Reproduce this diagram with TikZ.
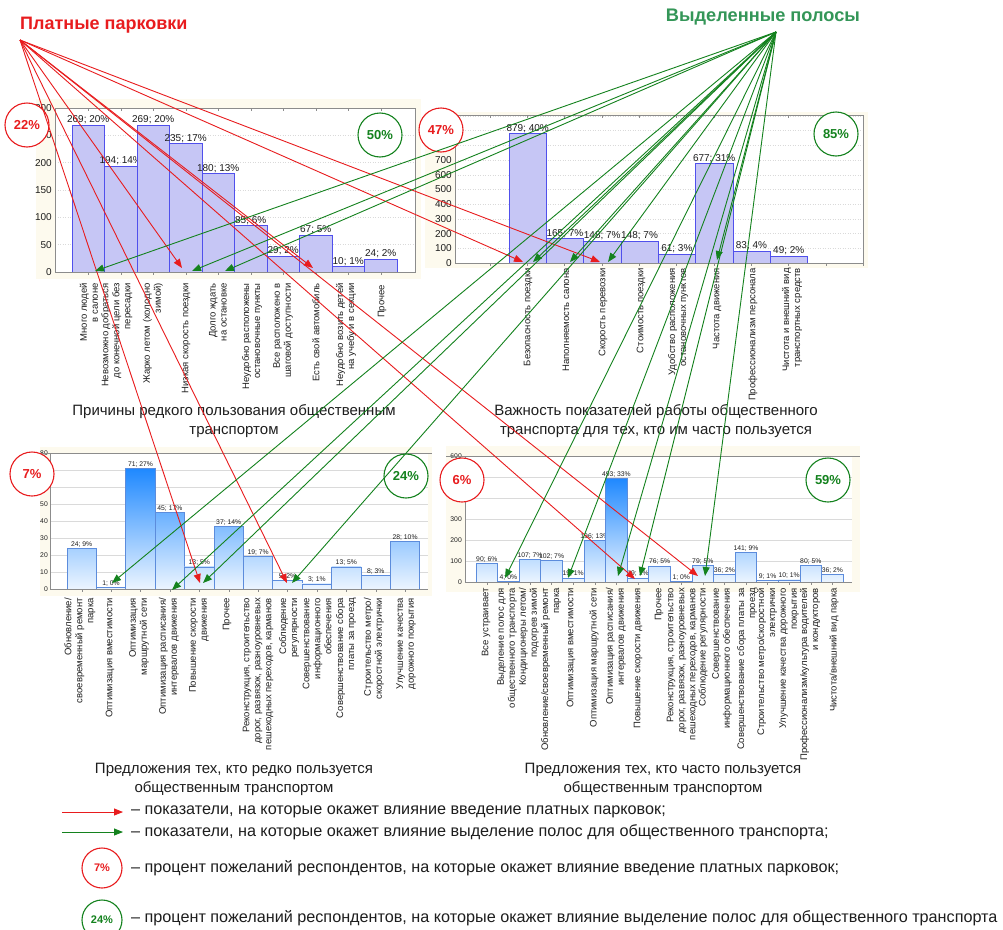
\documentclass[tikz,border=0pt]{standalone}
\usepackage{fontspec}
\setmainfont{Liberation Sans}
\usetikzlibrary{arrows.meta}
\definecolor{pred}{RGB}{232,28,30}
\definecolor{pgreen}{RGB}{20,130,30}
\definecolor{tgreen}{RGB}{52,150,88}
\definecolor{cream}{RGB}{253,250,238}
\definecolor{hatchfill}{RGB}{198,198,245}
\definecolor{hatchdraw}{RGB}{80,80,236}
\definecolor{barline}{RGB}{92,140,220}
\definecolor{deepblue}{RGB}{30,136,255}
\definecolor{paleblue}{RGB}{236,245,255}
\definecolor{gridc}{RGB}{218,218,218}
\definecolor{axisc}{RGB}{140,140,140}
\definecolor{txtc}{RGB}{30,30,30}
\tikzset{
  catlab/.style={rotate=90, anchor=east, align=right, inner sep=0pt, text=txtc, font=\fontsize{9.5}{11}\selectfont},
  toplab/.style={anchor=south, inner sep=1pt, text=txtc, font=\fontsize{10}{10}\selectfont},
  botlab/.style={anchor=south, inner sep=1pt, text=txtc, font=\fontsize{6.8}{7}\selectfont},
  ytop/.style={anchor=east, inner sep=1pt, text=txtc, font=\fontsize{10}{10}\selectfont},
  ybot/.style={anchor=east, inner sep=1pt, text=txtc, font=\fontsize{6.8}{7}\selectfont},
  caption/.style={align=center, text=txtc, font=\fontsize{15}{19}\selectfont},
  hbar/.style={fill=hatchfill, draw=hatchdraw, line width=0.6pt},
  bbar/.style={draw=barline, line width=0.8pt},
  frame/.style={draw=axisc, line width=0.7pt},
  gridl/.style={draw=gridc, line width=0.5pt, dash pattern=on 1pt off 1.5pt},
  gridb/.style={draw=gridc, line width=0.5pt},
  redcirc/.style={circle, draw=pred, line width=1.1pt, fill=white, text=pred, minimum size=44pt, inner sep=0pt, font=\bfseries\fontsize{13}{13}\selectfont},
  greencirc/.style={circle, draw=pgreen, line width=1.1pt, fill=white, text=pgreen, minimum size=44pt, inner sep=0pt, font=\bfseries\fontsize{13}{13}\selectfont},
  redarrow/.style={draw=pred, line width=0.9pt, -{Triangle[length=9pt,width=7pt]}},
  greenarrow/.style={draw=pgreen, line width=0.9pt, -{Triangle[length=9pt,width=7pt]}},
  legtext/.style={anchor=west, inner sep=0pt, text=txtc, font=\fontsize{16.2}{17}\selectfont},
}
\begin{document}
\begin{tikzpicture}[x=1pt,y=-1pt]
\useasboundingbox (0,0) rectangle (1003,929);
\fill[white] (0,0) rectangle (1003,929);

% ================= TOP-LEFT CHART =================
\fill[cream] (36,99) rectangle (421,279);
\fill[white] (55,108) rectangle (415,272);
\foreach \v in {50,100,...,300} {\draw[gridl] (55,{272-0.5467*\v}) -- (415,{272-0.5467*\v});}
\foreach \v [count=\i] in {0,50,...,300} {\node[ytop] (tly\i) at (53,{272-0.5467*\v}) {\v};}
\foreach \v/\t [count=\i from 0] in {269/{269; 20\%},194/{194; 14\%},269/{269; 20\%},235/{235; 17\%},180/{180; 13\%},85/{85; 6\%},29/{29; 2\%},67/{67; 5\%},10/{10; 1\%},24/{24; 2\%}} {
  \pgfmathsetmacro\xa{72+32.5*\i}
  \pgfmathsetmacro\xb{\xa+32.5}
  \pgfmathsetmacro\yt{272-0.5467*\v}
  \draw[hbar] (\xa,272) rectangle (\xb,\yt);
  \node[toplab] (tlv\i) at ({(\xa+\xb)/2},\yt) {\t};
  \draw[axisc] ({\xa+16.25},108) -- ({\xa+16.25},111);
  \draw[axisc] ({\xa+16.25},272) -- ({\xa+16.25},275);
}
\draw[frame] (55,108) rectangle (415,272);
\node[catlab] (tlc1) at (89,283) {Много людей\\в салоне};
\node[catlab] (tlc2) at (117,283) {Невозможно добраться\\до конечной цели без\\пересадки};
\node[catlab] (tlc3) at (153,283) {Жарко летом (холодно\\зимой)};
\node[catlab] (tlc4) at (186,283) {Низкая скорость поездки};
\node[catlab] (tlc5) at (218,283) {Долго ждать\\на остановке};
\node[catlab] (tlc6) at (252,283) {Неудобно расположены\\остановочные пункты};
\node[catlab] (tlc7) at (283,283) {Все расположено в\\шаговой доступности};
\node[catlab] (tlc8) at (316,283) {Есть свой автомобиль};
\node[catlab] (tlc9) at (346,283) {Неудобно возить детей\\на учебу и в секции};
\node[catlab] (tlc10) at (382,285) {Прочее};
\node[caption] (tlcap) at (234,421) {Причины редкого пользования общественным\\транспортом};

% ================= TOP-RIGHT CHART =================
\fill[cream] (425,112) rectangle (868,268);
\fill[white] (455,115) rectangle (863,263);
\foreach \v in {100,200,...,1000} {\draw[gridl] (455,{263-0.147*\v}) -- (863,{263-0.147*\v});}
\foreach \v [count=\i] in {0,100,...,1000} {\node[ytop] (try\i) at (453,{263-0.147*\v}) {\v};}
\foreach \v/\t [count=\i from 0] in {879/{879; 40\%},165/{165; 7\%},148/{148; 7\%},148/{148; 7\%},61/{61; 3\%},677/{677; 31\%},83/{83; 4\%},49/{49; 2\%}} {
  \pgfmathsetmacro\xa{509+37.3*\i}
  \pgfmathsetmacro\xb{\xa+37.3}
  \pgfmathsetmacro\yt{263-0.147*\v}
  \draw[hbar] (\xa,263) rectangle (\xb,\yt);
  \node[toplab] (trv\i) at ({(\xa+\xb)/2},\yt) {\t};
}
\foreach \i in {0,...,10} {
  \draw[axisc] ({490+37.3*\i},115) -- ({490+37.3*\i},118);
  \draw[axisc] ({490+37.3*\i},263) -- ({490+37.3*\i},266);
}
\draw[frame] (455,115) rectangle (863,263);
\node[catlab] (trc1) at (528,268) {Безопасность поездки};
\node[catlab] (trc2) at (566,268) {Наполняемость салона};
\node[catlab] (trc3) at (603,268) {Скорость перевозки};
\node[catlab] (trc4) at (641,268) {Стоимость поездки};
\node[catlab] (trc5) at (678,268) {Удобство расположения\\остановочных пунктов};
\node[catlab] (trc6) at (717,268) {Частота движения};
\node[catlab] (trc7) at (753,268) {Профессионализм персонала};
\node[catlab] (trc8) at (792,268) {Чистота и внешний вид\\транспортных средств};
\node[caption] (trcap) at (656,421) {Важность показателей работы общественного\\транспорта для тех, кто им часто пользуется};

% ================= BOTTOM-LEFT CHART =================
\fill[cream] (40,447) rectangle (432,596);
\fill[white] (50,453) rectangle (428,589);
\foreach \v in {10,20,...,70} {\draw[gridb] (50,{589-1.7*\v}) -- (428,{589-1.7*\v});}
\foreach \v [count=\i] in {0,10,...,80} {\node[ybot] (bly\i) at (49,{589-1.7*\v}) {\v};}
\foreach \v/\t [count=\i from 0] in {24/{24; 9\%},1/{1; 0\%},71/{71; 27\%},45/{45; 17\%},13/{13; 5\%},37/{37; 14\%},19/{19; 7\%},5/{5; 2\%},3/{3; 1\%},13/{13; 5\%},8/{8; 3\%},28/{28; 10\%}} {
  \pgfmathsetmacro\xa{67+29.4*\i}
  \pgfmathsetmacro\xb{\xa+29.4}
  \pgfmathsetmacro\yt{589-1.7*\v}
  \begin{scope}
    \clip (\xa,589) rectangle (\xb,\yt);
    \shade[top color=deepblue, bottom color=paleblue] (\xa,468) rectangle (\xb,589);
  \end{scope}
  \draw[bbar] (\xa,589) rectangle (\xb,\yt);
  \node[botlab] (blv\i) at ({(\xa+\xb)/2},\yt) {\t};
  \draw[axisc] ({\xa+14.7},589) -- ({\xa+14.7},592);
}
\draw[axisc, line width=0.8pt] (40,453) -- (432,453);
\draw[axisc, line width=0.6pt] (50,453) -- (50,589) -- (428,589);
\node[catlab] (blc1) at (80,598) {Обновление/\\своевременный ремонт\\парка};
\node[catlab] (blc2) at (110,598) {Оптимизация вместимости};
\node[catlab] (blc3) at (139,598) {Оптимизация\\маршрутной сети};
\node[catlab] (blc4) at (169,598) {Оптимизация расписания/\\интервалов движения};
\node[catlab] (blc5) at (199,598) {Повышение скорости\\движения};
\node[catlab] (blc6) at (227,598) {Прочее};
\node[catlab] (blc7) at (258,598) {Реконструкция, строительство\\дорог, развязок, разноуровневых\\пешеходных переходов, карманов};
\node[catlab] (blc8) at (289,598) {Соблюдение\\регулярности};
\node[catlab] (blc9) at (317,598) {Совершенствование\\информационного\\обеспечения};
\node[catlab] (blc10) at (346,598) {Совершенствование сбора\\платы за проезд};
\node[catlab] (blc11) at (374,598) {Строительство метро/\\скоростной электрички};
\node[catlab] (blc12) at (406,598) {Улучшение качества\\дорожного покрытия};
\node[caption] (blcap) at (234,779) {Предложения тех, кто редко пользуется\\общественным транспортом};

% ================= BOTTOM-RIGHT CHART =================
\fill[cream] (446,446) rectangle (860,592);
\fill[white] (465,456) rectangle (852,582);
\foreach \v in {100,200,...,500} {\draw[gridb] (465,{582-0.21*\v}) -- (852,{582-0.21*\v});}
\foreach \v [count=\i] in {0,100,...,600} {\node[ybot] (bry\i) at (463,{582-0.21*\v}) {\v};}
\foreach \v/\t [count=\i from 0] in {90/{90; 6\%},4/{4; 0\%},107/{107; 7\%},102/{102; 7\%},19/{19; 1\%},196/{196; 13\%},493/{493; 33\%},19/{19; 1\%},76/{76; 5\%},1/{1; 0\%},79/{79; 5\%},36/{36; 2\%},141/{141; 9\%},9/{9; 1\%},10/{10; 1\%},80/{80; 5\%},36/{36; 2\%}} {
  \pgfmathsetmacro\xa{476+21.6*\i}
  \pgfmathsetmacro\xb{\xa+21.6}
  \pgfmathsetmacro\yt{582-0.21*\v}
  \begin{scope}
    \clip (\xa,582) rectangle (\xb,\yt);
    \shade[top color=deepblue, bottom color=paleblue] (\xa,478) rectangle (\xb,582);
  \end{scope}
  \draw[bbar] (\xa,582) rectangle (\xb,\yt);
  \node[botlab] (brv\i) at ({(\xa+\xb)/2},\yt) {\t};
  \draw[axisc] ({\xa+10.8},582) -- ({\xa+10.8},585);
}
\draw[axisc, line width=0.8pt] (446,456) -- (860,456);
\draw[axisc, line width=0.6pt] (465,456) -- (465,582) -- (852,582);
\node[catlab] (brc1) at (486,588) {Все устраивает};
\node[catlab] (brc2) at (507,588) {Выделение полос для\\общественного транспорта};
\node[catlab] (brc3) at (529,588) {Кондиционеры летом/\\подогрев зимой};
\node[catlab] (brc4) at (551,588) {Обновление/своевременный ремонт\\парка};
\node[catlab] (brc5) at (571,588) {Оптимизация вместимости};
\node[catlab] (brc6) at (594,588) {Оптимизация маршрутной сети};
\node[catlab] (brc7) at (616,588) {Оптимизация расписания/\\интервалов движения};
\node[catlab] (brc8) at (638,588) {Повышение скорости движения};
\node[catlab] (brc9) at (659,588) {Прочее};
\node[catlab] (brc10) at (682,588) {Реконструкция, строительство\\дорог, развязок, разноуровневых\\пешеходных переходов, карманов};
\node[catlab] (brc11) at (703,588) {Соблюдение регулярности};
\node[catlab] (brc12) at (722,588) {Совершенствование\\информационного обеспечения};
\node[catlab] (brc13) at (747,588) {Совершенствование сбора платы за\\проезд};
\node[catlab] (brc14) at (767,588) {Строительство метро/скоростной\\электрички};
\node[catlab] (brc15) at (789,588) {Улучшение качества дорожного\\покрытия};
\node[catlab] (brc16) at (810,588) {Профессионализм/культура водителей\\и кондукторов};
\node[catlab] (brc17) at (834,588) {Чистота/внешний вид парка};
\node[caption] (brcap) at (663,779) {Предложения тех, кто часто пользуется\\общественным транспортом};

% ================= CIRCLES =================
\node[redcirc] (c22) at (27,125) {22\%};
\node[greencirc] (c50) at (380,135) {50\%};
\node[redcirc] (c47) at (441,130) {47\%};
\node[greencirc] (c85) at (836,134) {85\%};
\node[redcirc] (c7) at (32,474) {7\%};
\node[greencirc] (c24) at (406,476) {24\%};
\node[redcirc] (c6) at (462,480) {6\%};
\node[greencirc] (c59) at (828,480) {59\%};

% ================= TITLES & ARROWS =================
\node[anchor=west, inner sep=0pt, text=pred, font=\bfseries\fontsize{18}{18}\selectfont] (tred) at (20,25) {Платные парковки};
\node[inner sep=0pt, text=tgreen, font=\bfseries\fontsize{18.2}{18.2}\selectfont] (tgreen) at (763,17) {Выделенные полосы};
\coordinate (rs) at (20,40);
\coordinate (gs) at (776,32);

\coordinate (r1) at (182,268);
\coordinate (r2) at (313,268);
\coordinate (r3) at (523,262);
\coordinate (r4) at (600,262);
\coordinate (r5) at (200,583);
\coordinate (r6) at (287,583);
\coordinate (r7) at (635,579);
\coordinate (r8) at (698,576);
\foreach \k in {1,...,8} {\draw[redarrow] (rs) -- (r\k);}

\coordinate (g1) at (95,271);
\coordinate (g2) at (192,271);
\coordinate (g3) at (225,271);
\coordinate (g4) at (533,262);
\coordinate (g5) at (570,262);
\coordinate (g6) at (608,262);
\coordinate (g7) at (717,260);
\coordinate (g8) at (112,583);
\coordinate (g9) at (172,590);
\coordinate (g10) at (203,583);
\coordinate (g11) at (292,583);
\coordinate (g12) at (505,578);
\coordinate (g13) at (568,578);
\coordinate (g14) at (618,576);
\coordinate (g15) at (640,576);
\coordinate (g16) at (705,576);
\foreach \k in {1,...,16} {\draw[greenarrow] (gs) -- (g\k);}

% ================= LEGEND =================
\coordinate (lra) at (62,812);
\coordinate (lrb) at (123,812);
\coordinate (lga) at (62,832);
\coordinate (lgb) at (123,832);
\draw[redarrow] (lra) -- (lrb);
\draw[greenarrow] (lga) -- (lgb);
\node[legtext] (l1) at (131,812) {– показатели, на которые окажет влияние введение платных парковок;};
\node[legtext] (l2) at (131,832) {– показатели, на которые окажет влияние выделение полос для общественного транспорта;};
\node[redcirc, minimum size=40pt, font=\bfseries\fontsize{11}{11}\selectfont] (lc1) at (102,868) {7\%};
\node[legtext] (l3) at (131,868) {– процент пожеланий респондентов, на которые окажет влияние введение платных парковок;};
\node[greencirc, minimum size=40pt, font=\bfseries\fontsize{11}{11}\selectfont] (lc2) at (102,920) {24\%};
\node[legtext] (l4) at (131,918) {– процент пожеланий респондентов, на которые окажет влияние выделение полос для общественного транспорта};
\end{tikzpicture}
\end{document}
